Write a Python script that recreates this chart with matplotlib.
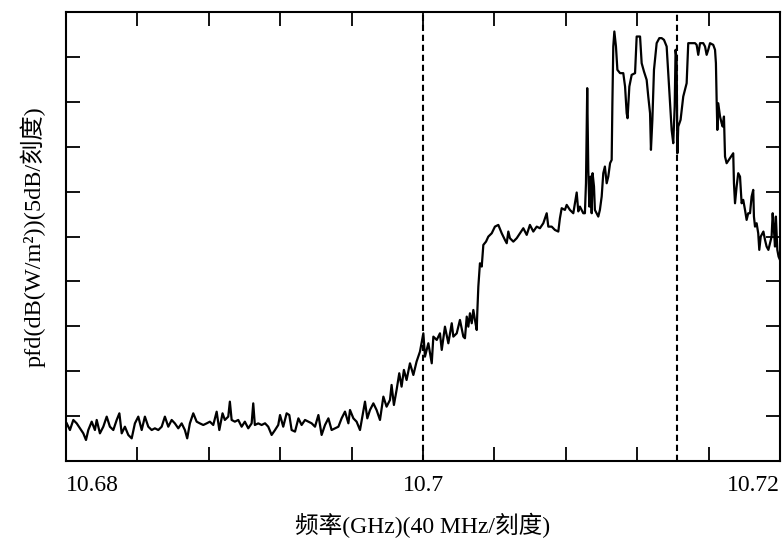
import numpy as np
import matplotlib
matplotlib.use("Agg")
import matplotlib.pyplot as plt
from matplotlib.ticker import FixedLocator

# Spectrum analyser trace: frequency (MHz) and power flux density (dB above the floor of the grid)
floor_freq = [10680.04, 10680.22, 10680.41, 10680.60, 10680.78, 10680.97, 10681.12, 10681.25, 10681.44,
              10681.62, 10681.72, 10681.90, 10682.09, 10682.28, 10682.46, 10682.65, 10682.84, 10682.99,
              10683.12, 10683.30, 10683.49, 10683.68, 10683.86, 10684.05, 10684.24, 10684.42, 10684.61,
              10684.80, 10684.98, 10685.17, 10685.36, 10685.54, 10685.73, 10685.92, 10686.10, 10686.29,
              10686.48, 10686.66, 10686.79, 10686.94, 10687.13, 10687.32, 10687.50, 10687.69, 10687.88,
              10688.06, 10688.25, 10688.44, 10688.59, 10688.77, 10688.90, 10689.09, 10689.18, 10689.28,
              10689.46, 10689.65, 10689.84, 10690.02, 10690.21, 10690.40, 10690.49, 10690.58, 10690.77]
floor_db = [4.19, 3.45, 4.57, 4.19, 3.64, 3.08, 2.34, 3.45, 4.38,
            3.45, 4.57, 3.08, 3.82, 4.94, 3.82, 3.45, 4.57, 5.31,
            3.08, 3.82, 2.90, 2.52, 4.19, 4.94, 3.45, 4.94, 3.82,
            3.45, 3.64, 3.45, 3.82, 4.94, 3.82, 4.57, 4.19, 3.64,
            4.19, 3.45, 2.52, 4.19, 5.31, 4.38, 4.19, 4.01, 4.19,
            4.38, 4.01, 5.49, 3.45, 5.31, 4.57, 4.94, 6.61, 4.57,
            4.38, 4.57, 3.82, 4.38, 3.64, 4.19, 6.42, 4.01, 4.19]

rise_freq = [10690.96, 10691.15, 10691.33, 10691.52, 10691.71, 10691.89, 10691.99, 10692.17, 10692.36,
             10692.51, 10692.64, 10692.83, 10693.02, 10693.20, 10693.39, 10693.58, 10693.76, 10693.95,
             10694.14, 10694.32, 10694.51, 10694.70, 10694.88, 10695.07, 10695.26, 10695.44, 10695.63,
             10695.82, 10695.91, 10696.10, 10696.28, 10696.47, 10696.62, 10696.75, 10696.88, 10697.03,
             10697.22, 10697.40, 10697.59, 10697.78, 10697.96, 10698.15, 10698.24, 10698.37, 10698.52,
             10698.67, 10698.80, 10698.93, 10699.08, 10699.27, 10699.46, 10699.64]
rise_db = [4.01, 4.20, 3.82, 2.90, 3.45, 4.01, 5.12, 3.82, 5.31,
           5.12, 3.45, 3.27, 4.75, 4.01, 4.57, 4.38, 4.20, 3.82,
           5.12, 2.90, 4.01, 4.75, 3.45, 3.64, 3.82, 4.75, 5.50,
           4.20, 5.68, 4.75, 4.38, 3.45, 5.12, 6.61, 4.75, 5.68,
           6.42, 5.68, 4.57, 7.17, 6.05, 6.80, 8.47, 6.24, 7.91,
           9.77, 8.28, 10.14, 9.02, 10.88, 9.58, 11.07]

shoulder_freq = [10699.83, 10700.02, 10700.11, 10700.30, 10700.49, 10700.58, 10700.77, 10700.95, 10701.05,
                 10701.23, 10701.42, 10701.61, 10701.70, 10701.89, 10702.07, 10702.26, 10702.35, 10702.45,
                 10702.54, 10702.63, 10702.73, 10702.82, 10702.91, 10703.01, 10703.04, 10703.10, 10703.19,
                 10703.29, 10703.38, 10703.53, 10703.66, 10703.85, 10704.03, 10704.22, 10704.41, 10704.59,
                 10704.69, 10704.78, 10704.87, 10705.06, 10705.25, 10705.43, 10705.62, 10705.81, 10705.99,
                 10706.18, 10706.37, 10706.55, 10706.74, 10706.93, 10707.02, 10707.21, 10707.39, 10707.58,
                 10707.67, 10707.77, 10707.95, 10708.05, 10708.23, 10708.42, 10708.61, 10708.70, 10708.79,
                 10708.98]
shoulder_db = [12.18, 14.22, 11.62, 13.11, 10.88, 13.85, 13.48, 14.22, 12.37,
               14.96, 13.11, 15.34, 13.85, 14.22, 15.71, 13.85, 13.67, 16.08,
               14.96, 16.45, 15.34, 16.82, 15.71, 14.59, 16.45, 19.42, 22.02,
               21.65, 24.06, 24.43, 24.99, 25.36, 26.10, 26.29, 25.36, 24.62,
               24.25, 25.55, 24.81, 24.43, 24.81, 25.36, 25.92, 25.18, 26.29,
               25.55, 26.10, 25.92, 26.48, 27.59, 26.10, 26.10, 25.73, 25.55,
               27.03, 28.15, 27.96, 28.52, 27.96, 27.59, 29.90, 27.80, 28.33,
               27.59]

carrier_freq = [10709.07, 10709.13, 10709.20, 10709.26, 10709.32, 10709.39, 10709.45, 10709.50, 10709.58,
                10709.63, 10709.82, 10709.91, 10710.01, 10710.10, 10710.19, 10710.29, 10710.38, 10710.48,
                10710.57, 10710.61, 10710.66, 10710.72, 10710.81, 10710.89, 10711.04, 10711.22, 10711.32,
                10711.41, 10711.46, 10711.56, 10711.69, 10711.88, 10711.97, 10712.16, 10712.25, 10712.38,
                10712.53, 10712.62, 10712.72, 10712.77, 10712.85, 10712.94, 10713.09, 10713.24, 10713.37,
                10713.50, 10713.65, 10713.74, 10713.84, 10713.93, 10714.02, 10714.10, 10714.15, 10714.21,
                10714.25, 10714.30, 10714.43, 10714.58, 10714.77]
carrier_db = [27.59, 30.93, 41.52, 32.42, 28.33, 31.67, 27.59, 32.05, 30.56,
              27.96, 27.22, 27.96, 29.45, 32.05, 32.79, 30.93, 31.67, 33.16,
              33.53, 39.84, 46.16, 47.83, 46.16, 43.56, 43.19, 43.19, 41.70,
              38.73, 38.17, 41.70, 43.00, 43.19, 47.27, 47.27, 44.30, 43.37,
              42.44, 40.59, 38.73, 34.65, 37.99, 43.56, 46.53, 47.09, 47.09,
              46.90, 46.16, 43.19, 39.84, 36.87, 35.39, 39.47, 45.79, 44.67,
              34.27, 37.24, 37.99, 40.59, 42.07]

tail_freq = [10714.86, 10715.24, 10715.33, 10715.42, 10715.52, 10715.70, 10715.80, 10715.89, 10715.98,
             10716.08, 10716.26, 10716.36, 10716.41, 10716.45, 10716.49, 10716.54, 10716.64, 10716.73,
             10716.79, 10716.86, 10716.92, 10717.01, 10717.20, 10717.38, 10717.42, 10717.48, 10717.57,
             10717.66, 10717.76, 10717.85, 10717.94, 10718.04, 10718.13, 10718.22, 10718.32, 10718.41,
             10718.50, 10718.54, 10718.60, 10718.69, 10718.78, 10718.84, 10718.92, 10719.07, 10719.16,
             10719.25, 10719.35, 10719.44, 10719.53, 10719.59, 10719.66, 10719.72, 10719.77, 10719.85,
             10719.92, 10720.00]
tail_db = [46.53, 46.53, 46.34, 45.23, 46.53, 46.53, 46.16, 45.23, 45.79,
           46.53, 46.34, 45.79, 44.30, 40.22, 36.87, 39.84, 38.36, 37.62,
           37.24, 38.36, 33.90, 33.16, 33.72, 34.27, 30.93, 28.70, 30.56,
           32.05, 31.67, 28.70, 29.08, 27.96, 26.85, 27.59, 27.59, 29.45,
           30.19, 27.22, 26.10, 26.48, 25.36, 23.51, 24.99, 25.55, 24.62,
           23.88, 23.51, 24.25, 24.99, 27.59, 25.73, 23.88, 27.22, 23.51,
           22.76, 22.39]

# Marker frequencies (MHz) shown as dashed verticals
marker_freq = [10700.0, 10714.22]

# Axis settings
x_major = [10.68, 10.70, 10.72]
x_major_labels = ["10.68", "10.7", "10.72"]
x_minor = np.linspace(10.68, 10.72, 11)
y_grid_db = np.arange(0, 51, 5)

freq_ghz = np.concatenate([floor_freq, rise_freq, shoulder_freq, carrier_freq, tail_freq]) / 1000.0
level_db = np.concatenate([floor_db, rise_db, shoulder_db, carrier_db, tail_db])

plt.rcParams["font.family"] = ["Liberation Serif", "Noto Sans CJK SC"]

W, H = 783, 540
fig = plt.figure(figsize=(W / 100, H / 100), dpi=100)
ax = fig.add_axes([66 / W, 1 - 461 / H, (780 - 66) / W, (461 - 12) / H])

for f in marker_freq:
    ax.axvline(f / 1000.0, color="black", lw=1.5, ls=(0, (3, 1.8)), zorder=1)
ax.plot(freq_ghz, level_db, color="black", lw=1.6, zorder=2)

ax.set_xlim(10.68, 10.72)
ax.set_ylim(0, 50)

ax.xaxis.set_major_locator(FixedLocator(x_major))
ax.xaxis.set_minor_locator(FixedLocator(x_minor))
ax.set_xticklabels(x_major_labels, fontsize=17)
for lbl, ha in zip(ax.get_xticklabels(), ["left", "center", "right"]):
    lbl.set_horizontalalignment(ha)
ax.yaxis.set_major_locator(FixedLocator(y_grid_db))

ax.tick_params(axis="both", which="both", direction="in", top=True, right=True,
               length=10, width=1.3, labelleft=False, color="black")
ax.tick_params(axis="x", which="major", pad=10)

for s in ax.spines.values():
    s.set_linewidth(1.5)
    s.set_color("black")

ax.set_xlabel("频率(GHz)(40 MHz/刻度)", fontsize=17, labelpad=12)
ax.set_ylabel("pfd(dB(W/m²))(5dB/刻度)", fontsize=17.5, labelpad=15)

fig.savefig("out.png", dpi=100, facecolor="white")
